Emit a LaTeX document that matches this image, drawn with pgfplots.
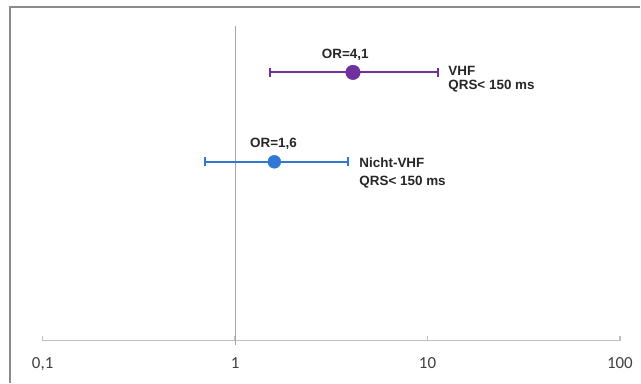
\documentclass[border=0pt]{standalone}
\usepackage{pgfplots}
\pgfplotsset{compat=1.18}
\usepackage{fontspec}
\setmainfont{Liberation Sans}
\newfontfamily\carlito{Carlito}

\definecolor{vhfpurple}{HTML}{7030A0}
\definecolor{nvhfblue}{HTML}{2F78D3}
\definecolor{axisgray}{HTML}{BFBFBF}
\definecolor{refgray}{HTML}{A6A6A6}
\definecolor{framegray}{HTML}{8C8C8C}
\definecolor{labelgray}{HTML}{404040}

\begin{document}
\begin{tikzpicture}
\begin{axis}[
  scale only axis,
  width=578bp, height=314bp,
  xmode=log,
  xmin=0.1, xmax=100,
  ymin=0, ymax=314,
  axis x line=bottom,
  axis y line=none,
  axis line style={axisgray, line width=1.3bp, -},
  xtick={0.1,1,10,100},
  xticklabels={{0,1},1,10,100},
  xminorticks=false,
  tick align=inside,
  major tick length=5bp,
  tick style={axisgray, line width=1.3bp},
  /pgf/number format/assume math mode=true,
  xticklabel style={font=\carlito\fontsize{17}{17}\selectfont, text=labelgray,
    anchor=base, inner sep=0pt, yshift=-28bp},
  clip=false,
]
  % reference line at OR = 1
  \addplot[refgray, line width=0.9bp] coordinates {(1,-4) (1,315)};

  % VHF, QRS < 150 ms: confidence interval and point estimate
  \addplot[vhfpurple, line width=2bp, mark=|, mark size=4.5bp,
    mark options={line width=2bp}] coordinates {(1.51,268.5) (11.36,268.5)};
  \addplot[vhfpurple, only marks, mark=*, mark size=7.3bp] coordinates {(4.1,268.5)};

  % Nicht-VHF, QRS < 150 ms
  \addplot[nvhfblue, line width=1.8bp, mark=|, mark size=4.5bp,
    mark options={line width=1.8bp}] coordinates {(0.70,179) (3.88,179)};
  \addplot[nvhfblue, only marks, mark=*, mark size=6.5bp] coordinates {(1.6,179)};

  \begin{scope}[every node/.style={font=\bfseries\fontsize{13.5}{14}\selectfont,
      text=black!85, inner sep=0pt}]
    \node[anchor=base] at (axis cs:3.74,282.7) {OR=4,1};
    \node[anchor=base west] at (axis cs:12.81,265) {VHF};
    \node[anchor=base west] at (axis cs:12.81,251) {QRS< 150 ms};
    \node[anchor=base] at (axis cs:1.584,193) {OR=1,6};
    \node[anchor=base west] at (axis cs:4.42,173.7) {Nicht-VHF};
    \node[anchor=base west] at (axis cs:4.42,155.3) {QRS< 150 ms};
  \end{scope}

  \coordinate (O) at (rel axis cs:0,0);
\end{axis}
% chart area border
\draw[framegray, line width=1.6bp] ([xshift=-32.7bp,yshift=-42bp]O) -- ([xshift=-32.7bp,yshift=334bp]O) -- ([xshift=598.3bp,yshift=334bp]O);
\useasboundingbox ([xshift=-42.7bp,yshift=-42bp]O) rectangle ([xshift=598.3bp,yshift=341bp]O);
\end{tikzpicture}
\end{document}
